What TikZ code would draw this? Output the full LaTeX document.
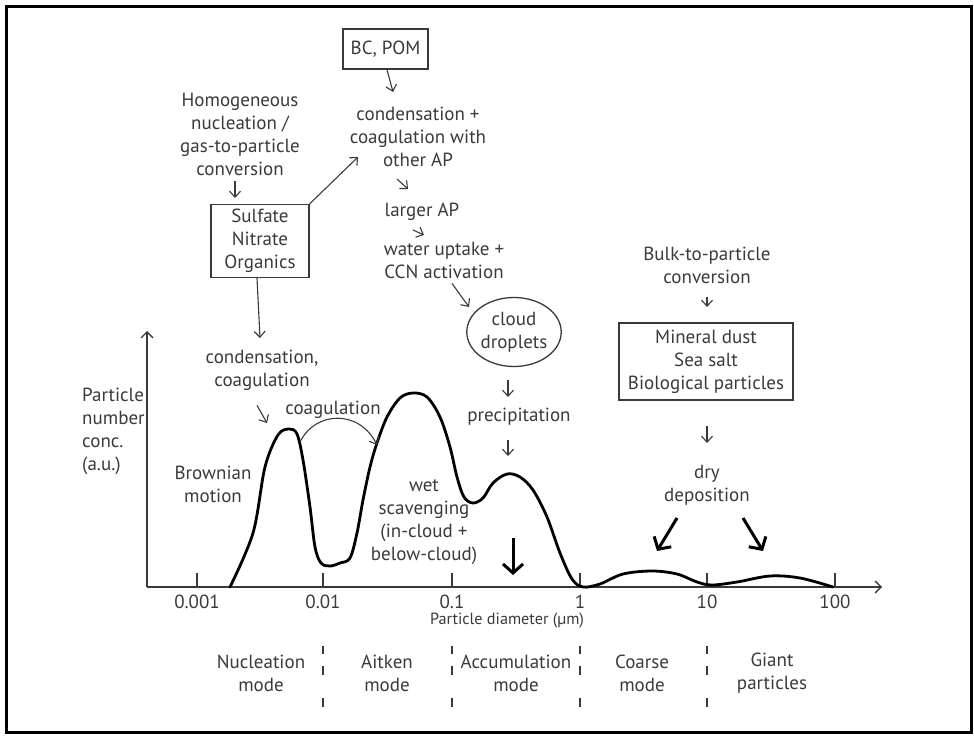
\documentclass[tikz,border=0pt]{standalone}
\usepackage{fontspec}
\setmainfont{PT Sans}
\usetikzlibrary{arrows.meta,shapes.geometric}
\definecolor{txt}{HTML}{3A3A3A}
\begin{document}
\begin{tikzpicture}[x=1pt,y=-1pt,
  lbl/.style={font=\fontsize{19}{23}\selectfont, text=txt, align=center, inner sep=0pt},
  smalllbl/.style={font=\fontsize{16.2}{20}\selectfont, text=txt, align=center, inner sep=0pt},
  boxed/.style={lbl, draw=txt, line width=1.3pt},
  thinarr/.style={draw=txt, line width=1.1pt, -{Straight Barb[length=6pt,width=11pt]}},
  thickarr/.style={draw=black, line width=3pt, -{Straight Barb[length=9pt,width=20pt,line width=3pt]}},
  axisline/.style={draw=txt, line width=1.4pt},
  divider/.style={draw=txt, line width=1.2pt, dash pattern=on 8pt off 12pt on 9pt off 23pt on 9pt}
]
\useasboundingbox (0,0) rectangle (974,738);
\draw[line width=3pt] (6.5,6.5) rectangle (971,732);

% text nodes
\node[lbl] (homog) at (240,134) {Homogeneous\\nucleation /\\gas-to-particle\\conversion};
\node[boxed, minimum width=98, minimum height=73] (sulf) at (260,241) {Sulfate\\Nitrate\\Organics};
\node[boxed, minimum width=85, minimum height=40] (bcpom) at (385.5,49) {BC, POM};
\node[lbl] (cond) at (418,137) {condensation +\\coagulation with\\other AP};
\node[lbl] (larger) at (422,212) {larger AP};
\node[lbl] (water) at (444,260) {water uptake +\\CCN activation};
\node[lbl, draw=txt, line width=1.3pt, ellipse, minimum width=82, minimum height=69] (cloud) at (514,332) {cloud\\droplets};
\node[lbl] (precip) at (519,417) {precipitation};
\node[lbl] (condcoag) at (262,370) {condensation,\\coagulation};
\node[lbl] (coag) at (333,410) {coagulation};
\node[lbl] (brown) at (213,484) {Brownian\\motion};
\node[lbl] (wet) at (424,522) {wet\\scavenging\\(in-cloud +\\below-cloud)};
\node[lbl] (bulk) at (707,265) {Bulk-to-particle\\conversion};
\node[boxed, minimum width=174, minimum height=77] (mineral) at (706,361.5) {Mineral dust\\Sea salt\\Biological particles};
\node[lbl] (dry) at (707,485) {dry\\deposition};
\node[lbl, anchor=west, align=left] (ylab) at (82,431) {Particle\\number\\conc.\\(a.u.)};

% axes
\coordinate (O) at (147,587);
\coordinate (xend) at (882,587);
\coordinate (yend) at (147,331);
\draw[axisline, -{Straight Barb[length=6pt,width=12pt]}] (O) -- (xend);
\draw[axisline, -{Straight Barb[length=6pt,width=12pt]}] (O) -- (yend);
\foreach \x/\t/\n in {197/0.001/ta,323/0.01/tb,452/0.1/tc,580/1/td,707/10/te,835/100/tf}{
  \draw[axisline] (\x,573) -- (\x,587);
  \node[lbl] (\n) at (\x,602) {\t};
}
\node[smalllbl] (xlab) at (507,621) {Particle diameter (µm)};

% modes
\foreach \x in {323,452,580,707}{
  \draw[divider] (\x,646) -- (\x,707);
}
\node[lbl] (m1) at (261,673.5) {Nucleation\\mode};
\node[lbl] (m2) at (387,673.5) {Aitken\\mode};
\node[lbl] (m3) at (516,673.5) {Accumulation\\mode};
\node[lbl] (m4) at (642,673.5) {Coarse\\mode};
\node[lbl] (m5) at (772,673.5) {Giant\\particles};

% size distribution curve
\draw[line width=2.8pt, line join=round, line cap=round] plot[smooth, tension=0.55] coordinates {
 (230,587) (253,533) (265,467) (278,435) (289,429) (297,434) (303,460) (310,507) (315,547)
 (321,563) (330,566) (340,563) (350,558) (357,533) (363,500) (370,467) (377,443) (387,417)
 (400,398) (413,393) (427,397) (440,417) (450,447) (457,477) (464,497) (473,503) (483,498)
 (493,483) (507,474) (520,477) (533,490) (547,517) (560,553) (572,579) (583,587) (600,584)
 (623,574) (652,571) (677,574) (697,582) (712,585) (737,582) (770,576) (800,578) (833,587)};

% small arrows
\coordinate (a1) at (235,198);
\draw[thinarr] ([xshift=-5pt,yshift=-6pt]homog.south) -- (a1);
\coordinate (a2) at (358,157);
\draw[thinarr] (sulf.north east) -- (a2);
\coordinate (a3) at (260,338);
\draw[thinarr] ([xshift=-3pt]sulf.south) -- (a3);
\coordinate (a4) at (393,92);
\draw[thinarr] ([xshift=1.5pt]bcpom.south) -- (a4);
\coordinate (a5) at (408,189);
\draw[thinarr] ([xshift=-21pt,yshift=-12pt]cond.south) -- (a5);
\coordinate (a6) at (424,235);
\draw[thinarr] ([xshift=-9pt,yshift=-9pt]larger.south) -- (a6);
\coordinate (a7) at (469,307);
\draw[thinarr] ([xshift=8pt,yshift=-5pt]water.south) -- (a7);
\coordinate (a8) at (508,397);
\draw[thinarr] ([xshift=-6pt,yshift=-13pt]cloud.south) -- (a8);
\coordinate (a9) at (508,456);
\draw[thinarr] ([xshift=-11pt,yshift=-14pt]precip.south) -- (a9);
\coordinate (a10) at (267,423);
\draw[thinarr] ([xshift=-5pt,yshift=-15pt]condcoag.south) -- (a10);
\coordinate (a11) at (707,307);
\draw[thinarr] ([yshift=-13pt]bulk.south) -- (a11);
\coordinate (a12) at (707,443);
\draw[thinarr] ([xshift=1pt,yshift=-25pt]mineral.south) -- (a12);

% coagulation arc
\coordinate (c1) at (300,442);
\coordinate (c2) at (377,445);
\draw[thinarr] (c1) .. controls (316,410) and (360,410) .. (c2);

% thick arrows
\coordinate (w1) at (513,538);
\coordinate (w2) at (513,575);
\draw[thickarr] (w1) -- (w2);
\coordinate (d1) at (677,518);
\coordinate (d2) at (657,551);
\draw[thickarr] (d1) -- (d2);
\coordinate (d3) at (743,518);
\coordinate (d4) at (763,551);
\draw[thickarr] (d3) -- (d4);
\end{tikzpicture}
\end{document}
